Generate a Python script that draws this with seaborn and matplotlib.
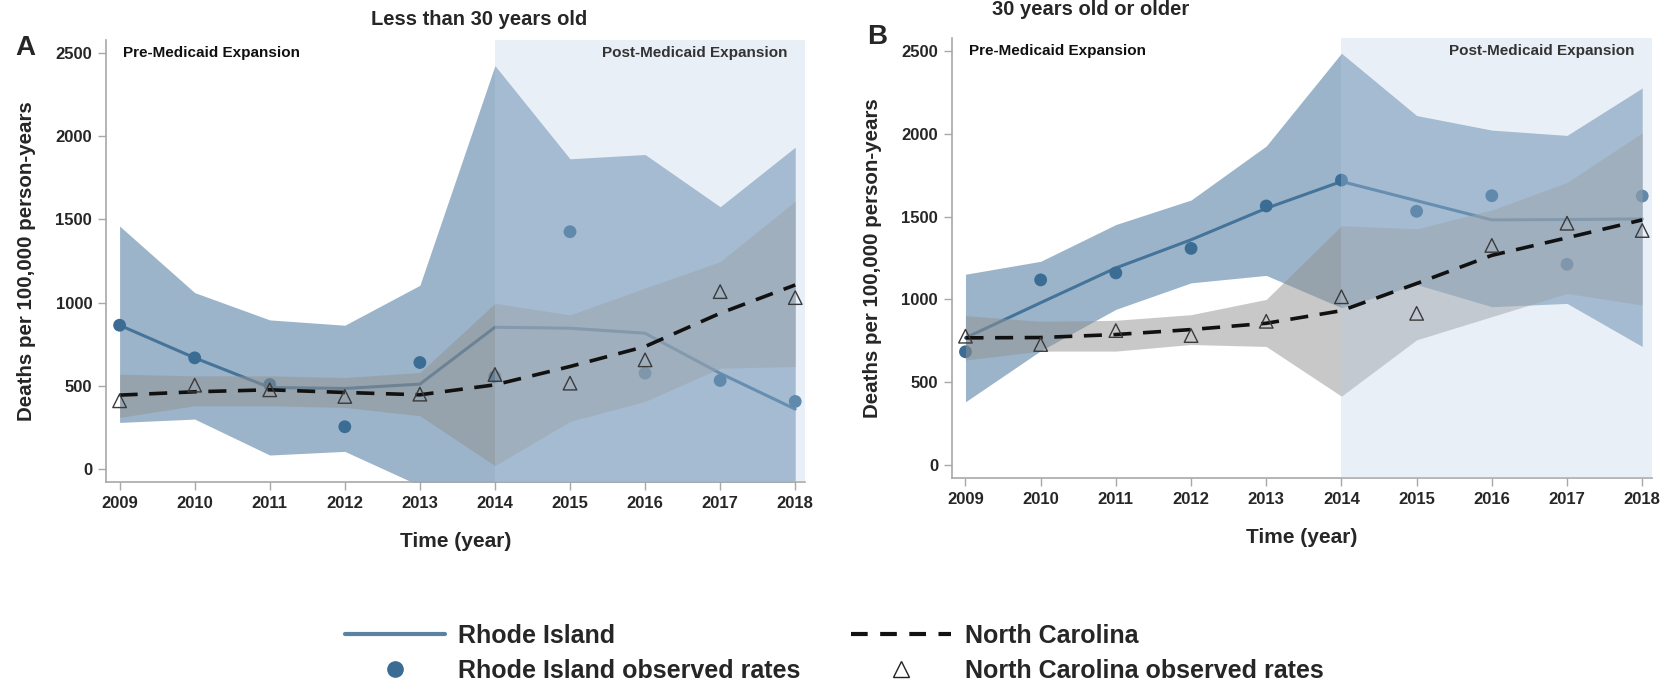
import matplotlib
matplotlib.use("Agg")
import matplotlib.pyplot as plt
from matplotlib.lines import Line2D
import pandas as pd
import seaborn as sns

# ---- data -------------------------------------------------------------
years = [2009, 2010, 2011, 2012, 2013, 2014, 2015, 2016, 2017, 2018]
xtick_labels = [str(y) for y in years]
yticks = [0, 500, 1000, 1500, 2000, 2500]

# Panel A: less than 30 years old
ri_fit_a = [864, 668, 490, 484, 510, 852, 846, 816, 575, 360]
ri_obs_a = [864, 668, 508, 254, 640, 555, 1426, 576, 532, 406]
ri_lo_a = [280, 300, 84, 106, -100, -700, -150, -250, -500, -1200]
ri_hi_a = [1460, 1060, 896, 864, 1104, 2424, 1864, 1890, 1576, 1934]
nc_fit_a = [444, 464, 476, 460, 446, 506, 616, 736, 936, 1106]
nc_obs_a = [410, 504, 476, 436, 450, 568, 516, 656, 1066, 1030]
nc_lo_a = [310, 380, 380, 370, 320, 20, 286, 406, 606, 616]
nc_hi_a = [570, 560, 560, 550, 580, 996, 926, 1088, 1246, 1610]

# Panel B: 30 years old or older
ri_fit_b = [768, 980, 1190, 1360, 1550, 1712, 1596, 1480, 1482, 1486]
ri_obs_b = [684, 1118, 1160, 1308, 1564, 1720, 1532, 1626, 1212, 1624]
ri_lo_b = [382, 690, 940, 1100, 1145, 950, 1090, 956, 976, 716]
ri_hi_b = [1152, 1230, 1452, 1600, 1926, 2486, 2110, 2022, 1990, 2276]
nc_fit_b = [768, 770, 788, 818, 856, 932, 1096, 1266, 1372, 1480]
nc_obs_b = [778, 728, 812, 782, 868, 1016, 916, 1326, 1460, 1416]
nc_lo_b = [634, 688, 688, 728, 716, 416, 756, 896, 1036, 966]
nc_hi_b = [902, 868, 874, 908, 1000, 1445, 1426, 1540, 1706, 2006]

panel_titles = ["Less than 30 years old", "30 years old or older"]
panel_letters = ["A", "B"]
expansion_year = 2014

# ---- style ------------------------------------------------------------
sns.set_theme(style="white")
plt.rcParams["font.family"] = ["Liberation Sans", "DejaVu Sans"]

RI_COLOR = "#3b6c93"
RI_LINE = "#45749a"
RI_BAND = "#3f7099"
NC_BAND = "#939393"
POST_SHADE = "#b9cde4"
SPINE = "#a8a8a8"


def draw_panel(ax, ri_fit, ri_obs, ri_lo, ri_hi, nc_fit, nc_obs, nc_lo, nc_hi):
    df = pd.DataFrame({
        "year": years, "ri_fit": ri_fit, "ri_obs": ri_obs,
        "nc_fit": nc_fit, "nc_obs": nc_obs,
    })
    # Rhode Island confidence band, fitted line and observed rates
    ax.fill_between(years, ri_lo, ri_hi, color=RI_BAND, alpha=0.52, lw=0, zorder=1)
    sns.lineplot(data=df, x="year", y="ri_fit", ax=ax, color=RI_LINE, lw=2.2, zorder=2)
    sns.scatterplot(data=df, x="year", y="ri_obs", ax=ax, color=RI_COLOR, s=85,
                    edgecolor="none", zorder=3)
    # North Carolina band drawn over the Rhode Island marks
    ax.fill_between(years, nc_lo, nc_hi, color=NC_BAND, alpha=0.5, lw=0, zorder=4)
    # Post-expansion period shading
    ax.axvspan(expansion_year, 2018.5, color=POST_SHADE, alpha=0.3, lw=0, zorder=5)
    sns.lineplot(data=df, x="year", y="nc_fit", ax=ax, color="#111111", lw=2.6, zorder=6)
    ax.lines[-1].set_dashes([5, 3.2])
    sns.scatterplot(data=df, x="year", y="nc_obs", ax=ax, marker="^", s=95,
                    facecolor="none", edgecolor="#3a3a3a", linewidth=1.0, zorder=7)

    ax.set_xlim(2008.82, 2018.13)
    ax.set_ylim(-78, 2578)
    ax.set_xticks(years)
    ax.set_xticklabels(xtick_labels, fontweight="bold", fontsize=12)
    ax.set_yticks(yticks)
    ax.set_yticklabels([str(v) for v in yticks], fontweight="bold", fontsize=12)
    ax.tick_params(axis="both", which="both", length=6, width=1, color=SPINE,
                   direction="out", left=True, bottom=True, pad=4)
    for side in ["top", "right"]:
        ax.spines[side].set_visible(False)
    for side in ["left", "bottom"]:
        ax.spines[side].set_color(SPINE)
        ax.spines[side].set_linewidth(1.2)
    ax.set_xlabel("Time (year)", fontweight="bold", fontsize=15, labelpad=15)
    ax.set_ylabel("Deaths per 100,000 person-years", fontweight="bold", fontsize=14.8,
                  labelpad=14)
    ax.text(2009.05, 2500, "Pre-Medicaid Expansion", fontweight="bold", fontsize=11,
            ha="left", va="center", color="#111111", zorder=8)
    ax.text(2017.9, 2500, "Post-Medicaid Expansion", fontweight="bold", fontsize=11,
            ha="right", va="center", color="#333333", zorder=8)


fig = plt.figure(figsize=(16.68, 6.87), dpi=100)
ax_a = fig.add_axes([0.0636, 0.2984, 0.419, 0.6434])
ax_b = fig.add_axes([0.5707, 0.3042, 0.4197, 0.6405])

draw_panel(ax_a, ri_fit_a, ri_obs_a, ri_lo_a, ri_hi_a, nc_fit_a, nc_obs_a, nc_lo_a, nc_hi_a)
draw_panel(ax_b, ri_fit_b, ri_obs_b, ri_lo_b, ri_hi_b, nc_fit_b, nc_obs_b, nc_lo_b, nc_hi_b)

fig.text(0.287, 0.972, panel_titles[0], ha="center", va="center", fontweight="bold",
         fontsize=14.5)
fig.text(0.654, 0.986, panel_titles[1], ha="center", va="center", fontweight="bold",
         fontsize=14.5)
fig.text(0.009, 0.930, panel_letters[0], ha="left", va="center", fontweight="bold",
         fontsize=20)
fig.text(0.520, 0.946, panel_letters[1], ha="left", va="center", fontweight="bold",
         fontsize=20)

handles = [
    Line2D([], [], color="#5a82a4", lw=3),
    Line2D([], [], color=RI_COLOR, marker="o", ls="none", markersize=11),
    Line2D([], [], color="#111111", lw=3, dashes=[4, 3]),
    Line2D([], [], color="#222222", marker="^", ls="none", markersize=11,
           markerfacecolor="none", markeredgewidth=1.0),
]
labels = ["Rhode Island", "Rhode Island observed rates", "North Carolina",
          "North Carolina observed rates"]
fig.legend(handles, labels, loc="center", bbox_to_anchor=(0.5, 0.049), ncol=2,
           frameon=False, handlelength=4.0, handletextpad=0.55, columnspacing=2.0,
           labelspacing=0.45, prop={"weight": "bold", "size": 18})

fig.savefig("out.png", dpi=100)
